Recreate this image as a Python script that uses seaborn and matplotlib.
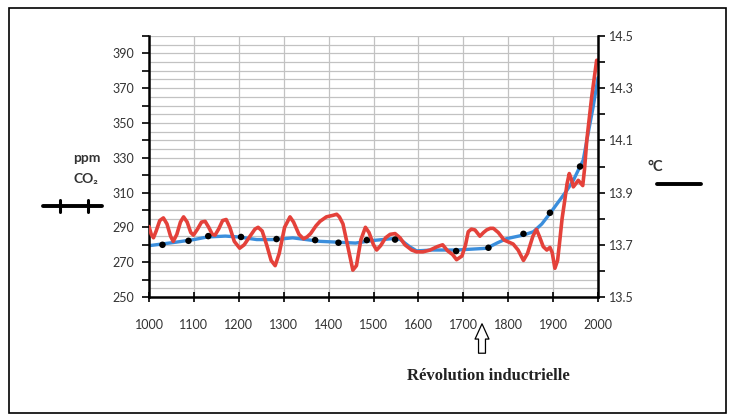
import numpy as np
import pandas as pd
import matplotlib
matplotlib.use("Agg")
import matplotlib.pyplot as plt
import seaborn as sns
from matplotlib.lines import Line2D
from matplotlib.patches import Rectangle, FancyArrowPatch
from matplotlib.ticker import MultipleLocator

# CO2 (ppm) smooth curve
co2_years = [1000, 1030, 1060, 1100, 1130, 1170, 1200, 1240, 1280, 1320, 1350, 1380,
             1420, 1460, 1500, 1540, 1560, 1580, 1596, 1630, 1685, 1752, 1775, 1796, 1834, 1856,
             1875, 1893, 1910, 1930, 1945, 1960, 1967, 1978, 1989, 2000]
co2_ppm = [279.5, 280.5, 281.5, 283, 284.5, 285, 284.5, 283, 283, 284, 283, 282,
           281.5, 281, 282.5, 283.5, 283, 279, 276.5, 277, 277, 278, 281, 283.5, 285.6, 287.5,
           292, 298, 304, 311, 317, 325, 328.6, 344, 359, 376]

# ice core measurements (ppm)
ice_years = [1030, 1088, 1132, 1205, 1284, 1370, 1422, 1485, 1548, 1684, 1756, 1834, 1893, 1960]
ice_ppm = [280, 282.3, 285, 284.5, 283.3, 282.7, 281.2, 282.7, 283, 276.4, 278.3, 286.3, 298.4, 325]

# temperature, read in ppm-scale then given in deg C
temp_years = [1000, 1005, 1010, 1016, 1024, 1032, 1040, 1048, 1054, 1062, 1070, 1077,
              1085, 1093, 1099, 1108, 1117, 1125, 1133, 1141, 1147, 1155, 1164, 1172,
              1180, 1190, 1202, 1212, 1225, 1236, 1243, 1252, 1262, 1272, 1281, 1290,
              1302, 1314, 1322, 1334, 1344, 1352, 1360, 1372, 1381, 1395, 1410, 1418,
              1424, 1432, 1442, 1454, 1462, 1472, 1482, 1490, 1500, 1507, 1516, 1527,
              1537, 1548, 1559, 1570, 1585, 1596, 1610, 1626, 1642, 1654, 1665, 1676,
              1685, 1697, 1705, 1711, 1718, 1726, 1737, 1745, 1752, 1760, 1767, 1778,
              1791, 1811, 1822, 1834, 1843, 1855, 1863, 1870, 1878, 1886, 1893, 1898,
              1904, 1910, 1915, 1920, 1926, 1931, 1936, 1941, 1945, 1950, 1956, 1962,
              1966, 1970, 1975, 1986, 1997, 2000]
temp_c = [13.770, 13.740, 13.727, 13.753, 13.793, 13.803, 13.780, 13.733, 13.713, 13.740,
          13.787, 13.807, 13.787, 13.747, 13.737, 13.760, 13.787, 13.790, 13.767, 13.740,
          13.737, 13.760, 13.793, 13.797, 13.767, 13.713, 13.687, 13.700, 13.733, 13.760,
          13.767, 13.753, 13.700, 13.640, 13.620, 13.667, 13.767, 13.807, 13.787, 13.740,
          13.723, 13.730, 13.743, 13.773, 13.790, 13.807, 13.813, 13.817, 13.807, 13.780,
          13.700, 13.603, 13.620, 13.720, 13.767, 13.747, 13.700, 13.680, 13.697, 13.727,
          13.740, 13.743, 13.727, 13.700, 13.680, 13.673, 13.673, 13.680, 13.693, 13.700,
          13.677, 13.663, 13.643, 13.657, 13.700, 13.750, 13.760, 13.757, 13.733, 13.747,
          13.757, 13.763, 13.763, 13.747, 13.718, 13.703, 13.680, 13.640, 13.667, 13.733,
          13.759, 13.730, 13.693, 13.680, 13.690, 13.670, 13.610, 13.640, 13.718, 13.800,
          13.871, 13.933, 13.973, 13.950, 13.922, 13.933, 13.947, 13.935, 13.927, 13.990,
          14.100, 14.267, 14.407, 14.407]

left_ticks = [250, 270, 290, 310, 330, 350, 370, 390]
right_ticks = [13.5, 13.7, 13.9, 14.1, 14.3, 14.5]
year_ticks = list(range(1000, 2001, 100))

co2 = pd.DataFrame({"annee": co2_years, "ppm": co2_ppm})
ice = pd.DataFrame({"annee": ice_years, "ppm": ice_ppm})
temp = pd.DataFrame({"annee": temp_years, "temp": temp_c})

sns.set_style("white")
plt.rcParams["font.family"] = ["Lato", "DejaVu Sans"]

fig = plt.figure(figsize=(7.36, 4.19), dpi=100)
ax = fig.add_axes([149/736, 1-297/419, 449/736, 261/419])
ax2 = ax.twinx()

red = "#e4413a"
blue = "#3b8edc"
txt = "#333333"

sns.lineplot(data=co2, x="annee", y="ppm", ax=ax, color=blue, lw=2.4,
             solid_joinstyle="round", solid_capstyle="round")
sns.lineplot(data=temp, x="annee", y="temp", ax=ax2, color=red, lw=2.6,
             solid_joinstyle="round", solid_capstyle="round")
# ice core dots drawn on top but in ppm units
sns.scatterplot(data=ice, x="annee", y="ppm", ax=ax2, color="black", s=22,
                edgecolor="none", zorder=5, transform=ax.transData)

ax.set_xlim(1000, 2000)
ax.set_ylim(250, 400)
ax2.set_ylim(13.5, 14.5)

# grid every 5 ppm / 100 years
for v in np.arange(255, 400.1, 5):
    ax.axhline(v, color="#c2c2c2", lw=0.9, zorder=0)
ax.set_xticks(year_ticks)
ax.xaxis.grid(True, color="#c2c2c2", lw=0.9)
ax.set_axisbelow(True)

ax.set_yticks(left_ticks)
ax.yaxis.set_minor_locator(MultipleLocator(10))
ax2.set_yticks(right_ticks)
ax2.yaxis.set_minor_locator(MultipleLocator(0.1))

ax.tick_params(axis="y", which="both", direction="out", length=5, width=1.2,
               color="black", pad=6, labelsize=9, labelcolor=txt, left=True)
ax.tick_params(axis="x", direction="inout", length=7, width=1.2, color="black",
               pad=12, labelsize=9, labelcolor=txt, bottom=True)
ax2.tick_params(axis="y", which="both", direction="out", length=5, width=1.2,
                color="black", pad=3, labelsize=9, labelcolor=txt, right=True)
ax.set_yticklabels([str(t) for t in left_ticks])
ax2.set_yticklabels([str(t) for t in right_ticks])

ax.set_xlabel("")
ax.set_ylabel("")
ax2.set_ylabel("")
for s in ["top", "right"]:
    ax.spines[s].set_visible(False)
for s in ["top", "left", "bottom"]:
    ax2.spines[s].set_visible(False)
ax.spines["left"].set_linewidth(1.8)
ax.spines["bottom"].set_linewidth(1.8)
ax2.spines["right"].set_linewidth(1.8)
for s in ["left", "bottom"]:
    ax.spines[s].set_color("black")
ax2.spines["right"].set_color("black")

# axis labels and little legend keys
fig.text(87/736, 1-158/419, "ppm", ha="center", va="center", fontsize=10,
         fontweight="bold", color=txt)
fig.text(86/736, 1-179/419, "CO₂", ha="center", va="center", fontsize=10,
         fontweight="bold", color=txt)
fig.add_artist(Line2D([43/736, 102/736], [1-206/419, 1-206/419], color="black", lw=2.8,
                      transform=fig.transFigure))
for xp in [60, 88]:
    fig.add_artist(Line2D([xp/736, xp/736], [1-200/419, 1-212/419], color="black", lw=2.2,
                          transform=fig.transFigure))
fig.text(655/736, 1-167/419, "°C", ha="center", va="center", fontsize=10.5,
         fontweight="bold", color=txt)
fig.add_artist(Line2D([657/736, 701/736], [1-184/419, 1-184/419], color="black", lw=2.8,
                      transform=fig.transFigure))

# arrow for the industrial revolution
arrow = FancyArrowPatch((482/736, 1-356/419), (482/736, 1-321/419),
                        transform=fig.transFigure,
                        arrowstyle="simple,head_width=1.0,head_length=1.1,tail_width=0.5",
                        mutation_scale=10, fc="white", ec="black", lw=0.9)
fig.add_artist(arrow)
fig.text(488/736, 1-376/419, "Révolution inductrielle", ha="center", va="center",
         fontsize=12, fontweight="bold", family="Liberation Serif", color="#222222")

fig.add_artist(Rectangle((9/736, 1-413/419), 717/736, 405/419, fill=False,
                         ec="black", lw=1.2, transform=fig.transFigure))

fig.savefig("out.png", dpi=100)
